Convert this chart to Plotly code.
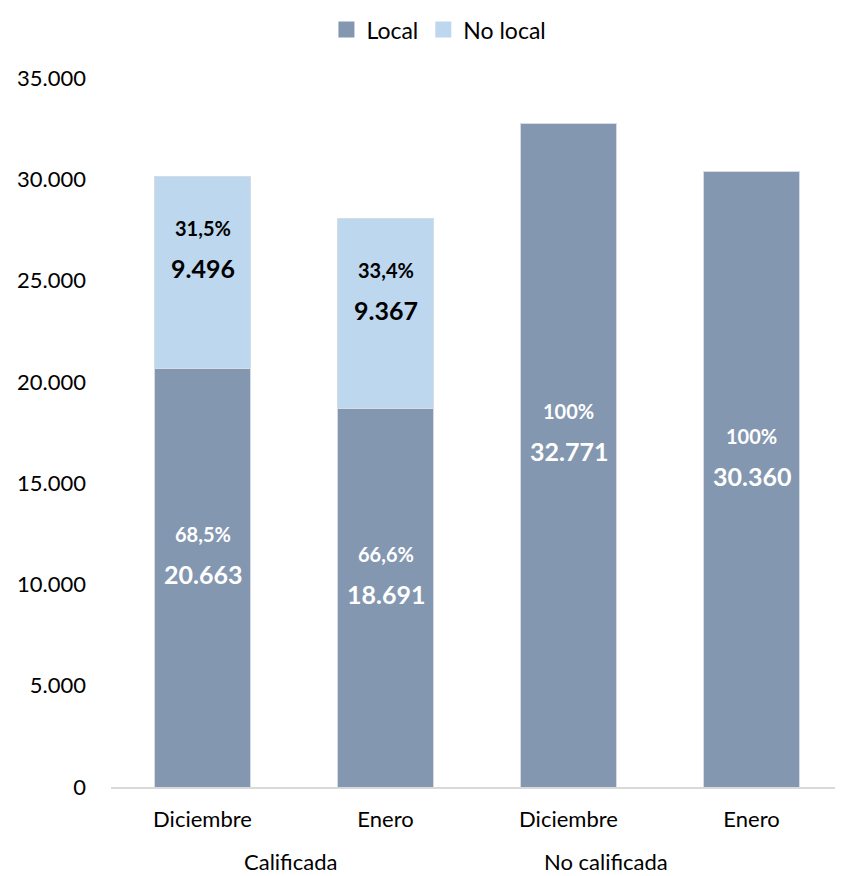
import plotly.graph_objects as go

groups = ["Calificada", "Calificada", "No calificada", "No calificada"]
months = ["Diciembre", "Enero", "Diciembre", "Enero"]
local = [20663, 18691, 32771, 30360]
no_local = [9496, 9367, 0, 0]
yticks = [0, 5000, 10000, 15000, 20000, 25000, 30000, 35000]

COL_LOCAL = "#8497B0"
COL_NOLOCAL = "#BDD7EE"
FONT = "Lato"
GROUP_XSHIFT = {"Calificada": -4, "No calificada": -54}

def fmt_pct(p):
    s = f"{p:.1f}".replace(".", ",")
    if s.endswith(",0"):
        s = s[:-2]
    return s + "%"

def fmt_num(v):
    return f"{v:,}".replace(",", ".")

x = list(range(len(months)))
tot = [a + b for a, b in zip(local, no_local)]

fig = go.Figure()
fig.add_trace(go.Bar(
    x=x, y=local, name="Local", showlegend=False,
    marker=dict(color=COL_LOCAL, line=dict(color="#D6DCE4", width=1)), width=0.52,
))
fig.add_trace(go.Bar(
    x=x, y=no_local, name="No local", showlegend=False,
    marker=dict(color=COL_NOLOCAL, line=dict(color="#D6DCE4", width=1)), width=0.52,
))
# legend entries with larger square swatches
for name, col in [("Local", COL_LOCAL), ("No local", COL_NOLOCAL)]:
    fig.add_trace(go.Scatter(x=[None], y=[None], mode="markers", name=name,
                             marker=dict(symbol="square", size=20, color=col)))

# segment labels (percent + value), positioned at segment centres
for series, base_list, color in [(local, [0] * len(local), "white"),
                                 (no_local, local, "black")]:
    for i, (v, b, t) in enumerate(zip(series, base_list, tot)):
        if v == 0:
            continue
        yc = b + v / 2
        fig.add_annotation(x=i, y=yc, xref="x", yref="y", showarrow=False,
                           text=f"<b>{fmt_pct(100 * v / t)}</b>", yshift=44,
                           font=dict(family=FONT, size=20, color=color))
        fig.add_annotation(x=i, y=yc, xref="x", yref="y", showarrow=False,
                           text=f"<b>{fmt_num(v)}</b>", yshift=4,
                           font=dict(family=FONT, size=25, color=color))

# group labels
seen = []
for g in groups:
    if g not in seen:
        seen.append(g)
for g in seen:
    idx = [i for i, gg in enumerate(groups) if gg == g]
    fig.add_annotation(x=sum(idx) / len(idx), y=0, xref="x", yref="paper",
                       text=g, showarrow=False, yanchor="top", yshift=-59,
                       xshift=GROUP_XSHIFT.get(g, 0),
                       font=dict(family=FONT, size=22, color="black"))

fig.update_layout(
    barmode="stack",
    separators=",.",
    width=835, height=868,
    margin=dict(l=103, r=0, t=70, b=89),
    plot_bgcolor="white", paper_bgcolor="white",
    font=dict(family=FONT, size=22, color="black"),
    showlegend=True,
    legend=dict(orientation="h", x=0.448, xanchor="center", y=1.0985, yanchor="top",
                font=dict(size=23), itemwidth=30, traceorder="normal",
                itemsizing="trace", borderwidth=0, tracegroupgap=0),
)
fig.update_xaxes(range=[-0.5, 3.5], tickvals=x, ticktext=months, showgrid=False,
                 showline=True, linecolor="#D9D9D9", linewidth=1.5, ticks="",
                 tickfont=dict(size=22), zeroline=False, ticklabelstandoff=12)
fig.update_yaxes(range=[0, 35000], tickvals=yticks, tickformat=",d", showgrid=False,
                 showline=False, zeroline=False, ticks="", tickfont=dict(size=22),
                 ticklabelstandoff=24)

fig.write_html("out.html")
